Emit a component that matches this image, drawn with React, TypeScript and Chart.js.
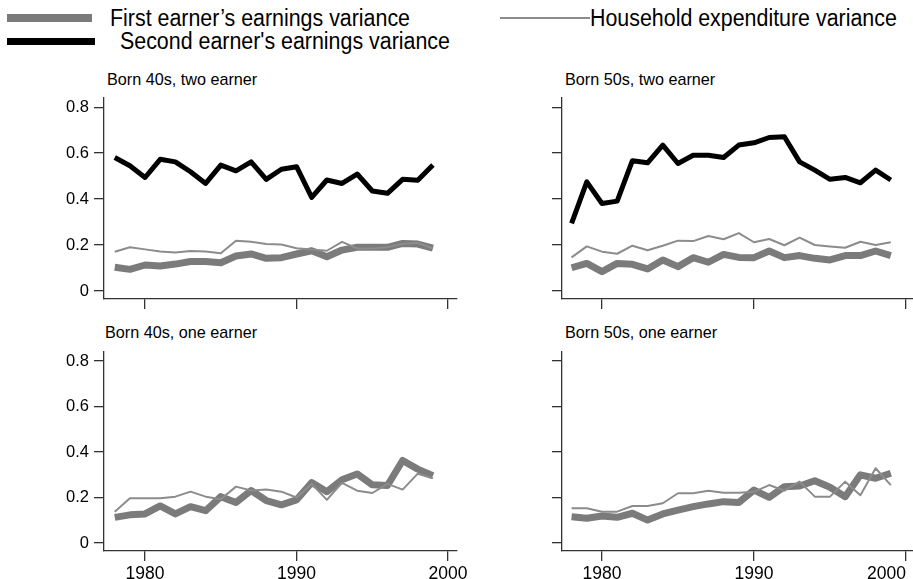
import React, { useEffect, useRef } from "react";
import { Chart, registerables } from "chart.js";

Chart.register(...registerables);

const years = [1978, 1979, 1980, 1981, 1982, 1983, 1984, 1985, 1986, 1987, 1988, 1989, 1990, 1991, 1992, 1993, 1994, 1995, 1996, 1997, 1998, 1999];

const first40Two = [0.103, 0.094, 0.113, 0.109, 0.117, 0.128, 0.128, 0.123, 0.152, 0.161, 0.142, 0.145, 0.161, 0.175, 0.149, 0.178, 0.19, 0.19, 0.19, 0.207, 0.204, 0.186];
const second40Two = [0.581, 0.545, 0.494, 0.573, 0.562, 0.519, 0.468, 0.548, 0.523, 0.562, 0.486, 0.53, 0.541, 0.407, 0.483, 0.468, 0.509, 0.435, 0.425, 0.486, 0.482, 0.548];
const house40Two = [0.171, 0.19, 0.181, 0.172, 0.167, 0.174, 0.172, 0.164, 0.219, 0.214, 0.204, 0.202, 0.186, 0.181, 0.175, 0.214, 0.185, 0.185, 0.19, 0.205, 0.21, 0.185];

const first50Two = [0.101, 0.12, 0.084, 0.12, 0.116, 0.096, 0.135, 0.106, 0.145, 0.125, 0.159, 0.146, 0.145, 0.174, 0.145, 0.154, 0.142, 0.135, 0.154, 0.154, 0.174, 0.154];
const second50Two = [0.294, 0.475, 0.381, 0.391, 0.567, 0.558, 0.635, 0.555, 0.591, 0.591, 0.581, 0.635, 0.645, 0.668, 0.671, 0.562, 0.526, 0.486, 0.494, 0.471, 0.526, 0.483];
const house50Two = [0.146, 0.194, 0.171, 0.162, 0.197, 0.177, 0.197, 0.219, 0.217, 0.239, 0.225, 0.252, 0.212, 0.226, 0.199, 0.232, 0.2, 0.194, 0.188, 0.214, 0.2, 0.212];

const first40One = [0.113, 0.124, 0.128, 0.163, 0.128, 0.16, 0.142, 0.204, 0.178, 0.231, 0.187, 0.168, 0.19, 0.266, 0.226, 0.278, 0.304, 0.256, 0.253, 0.363, 0.325, 0.296];
const house40One = [0.138, 0.197, 0.197, 0.197, 0.204, 0.226, 0.204, 0.193, 0.248, 0.231, 0.235, 0.226, 0.2, 0.26, 0.19, 0.265, 0.23, 0.22, 0.26, 0.235, 0.305, 0.285];

const first50One = [0.116, 0.109, 0.119, 0.113, 0.131, 0.101, 0.128, 0.145, 0.16, 0.172, 0.182, 0.178, 0.233, 0.201, 0.248, 0.251, 0.274, 0.245, 0.204, 0.3, 0.285, 0.307];
const house50One = [0.153, 0.153, 0.138, 0.138, 0.163, 0.163, 0.175, 0.219, 0.219, 0.23, 0.221, 0.221, 0.225, 0.255, 0.23, 0.27, 0.204, 0.204, 0.27, 0.21, 0.329, 0.255];

const yTicks = [0, 0.2, 0.4, 0.6, 0.8];
const xTicks = [1980, 1990, 2000];

const panelTitles = ["Born 40s, two earner", "Born 50s, two earner", "Born 40s, one earner", "Born 50s, one earner"];
const legendLabels = ["First earner\u2019s earnings variance", "Second earner's earnings variance", "Household expenditure variance"];

const FONT = "'Liberation Sans', Arial, Helvetica, sans-serif";
const THICK = "#7b7b7b";
const THIN = "#8c8c8c";
const AXIS = "#333333";

type Series = { data: number[]; color: string; width: number; order: number };

type PanelCfg = {
  left: number;
  top: number;
  width: number;
  height: number;
  padTop: number;
  padRight: number;
  yW: number;
  xH: number;
  xmin: number;
  xmax: number;
  showX: boolean;
  showY: boolean;
  innerAlign: boolean;
  series: Series[];
};

function Panel({ cfg }: { cfg: PanelCfg }) {
  const ref = useRef<HTMLCanvasElement | null>(null);
  useEffect(() => {
    if (!ref.current) return;
    const tickVals = cfg.innerAlign ? [cfg.xmin, ...xTicks] : xTicks;
    const chart = new Chart(ref.current, {
      type: "line",
      data: {
        datasets: cfg.series.map((s) => ({
          data: years.map((yr, i) => ({ x: yr, y: s.data[i] })),
          borderColor: s.color,
          backgroundColor: s.color,
          borderWidth: s.width,
          pointRadius: 0,
          tension: 0,
          fill: false,
          borderJoinStyle: "round" as const,
          borderCapStyle: "butt" as const,
          order: s.order,
        })),
      },
      options: {
        animation: false,
        responsive: false,
        devicePixelRatio: 1,
        layout: { padding: { top: cfg.padTop, right: cfg.padRight, left: 0, bottom: 0 } },
        plugins: { legend: { display: false }, tooltip: { enabled: false }, title: { display: false } },
        events: [],
        scales: {
          x: {
            type: "linear",
            min: cfg.xmin,
            max: cfg.xmax,
            afterBuildTicks: (s: any) => {
              s.ticks = tickVals.map((v) => ({ value: v }));
            },
            afterFit: (s: any) => {
              s.height = cfg.xH;
              s.paddingLeft = 0;
              s.paddingRight = 0;
            },
            grid: {
              display: true,
              drawOnChartArea: false,
              drawTicks: true,
              tickLength: 10,
              color: AXIS,
              tickColor: (ctx: any) => (ctx.tick && ctx.tick.value < 1979 ? "rgba(0,0,0,0)" : AXIS),
              lineWidth: 1.3,
            },
            border: { display: true, color: AXIS, width: 1.3 },
            ticks: {
              display: cfg.showX,
              color: "#000",
              font: { family: FONT, size: 17.5 },
              padding: 3,
              maxRotation: 0,
              autoSkip: false,
              align: cfg.innerAlign ? ("inner" as const) : ("center" as const),
              callback: (v: any) => (v < 1979 ? "" : String(v)),
            },
          },
          y: {
            type: "linear",
            min: -0.035,
            max: 0.84,
            afterBuildTicks: (s: any) => {
              s.ticks = yTicks.map((v) => ({ value: v }));
            },
            afterFit: (s: any) => {
              s.width = cfg.yW;
              s.paddingTop = 0;
              s.paddingBottom = 0;
            },
            grid: { display: true, drawOnChartArea: false, drawTicks: true, tickLength: 10, color: AXIS, lineWidth: 1.3 },
            border: { display: true, color: AXIS, width: 1.3 },
            ticks: {
              display: cfg.showY,
              color: "#000",
              font: { family: FONT, size: 16.5 },
              padding: 5,
              autoSkip: false,
              callback: (v: any) => String(v),
            },
          },
        },
      },
    });
    return () => chart.destroy();
  }, [cfg]);
  return (
    <canvas
      ref={ref}
      width={cfg.width}
      height={cfg.height}
      style={{ position: "absolute", left: cfg.left, top: cfg.top, width: cfg.width, height: cfg.height }}
    />
  );
}

const seriesSet = (first: number[], house: number[], second?: number[]): Series[] => {
  const s: Series[] = [
    { data: first, color: THICK, width: 7, order: 2 },
    { data: house, color: THIN, width: 2, order: 1 },
  ];
  if (second) s.push({ data: second, color: "#000", width: 5, order: 0 });
  return s;
};

const panels: PanelCfg[] = [
  { left: 40, top: 90, width: 440, height: 230, padTop: 8, padRight: 23, yW: 64, xH: 21, xmin: 1977.29, xmax: 2000.59, showX: false, showY: true, innerAlign: false, series: seriesSet(first40Two, house40Two, second40Two) },
  { left: 522, top: 90, width: 391, height: 230, padTop: 8, padRight: 0, yW: 40, xH: 21, xmin: 1977.37, xmax: 2000.46, showX: false, showY: false, innerAlign: false, series: seriesSet(first50Two, house50Two, second50Two) },
  { left: 40, top: 345, width: 440, height: 234, padTop: 7, padRight: 23, yW: 64, xH: 28, xmin: 1977.29, xmax: 2000.59, showX: true, showY: true, innerAlign: false, series: seriesSet(first40One, house40One) },
  { left: 522, top: 345, width: 391, height: 234, padTop: 7, padRight: 0, yW: 40, xH: 28, xmin: 1977.37, xmax: 2000.46, showX: true, showY: false, innerAlign: true, series: seriesSet(first50One, house50One) },
];

const titlePos = [
  { left: 107, top: 79 },
  { left: 565, top: 79 },
  { left: 105, top: 332 },
  { left: 565, top: 332 },
];

const textStyle = (left: number, centerY: number, size: number, sy = 1): React.CSSProperties => ({
  position: "absolute",
  left,
  top: centerY - size * 0.58,
  fontSize: size,
  lineHeight: `${size * 1.15}px`,
  fontFamily: FONT,
  color: "#000",
  whiteSpace: "nowrap",
  transform: sy !== 1 ? `scaleY(${sy})` : undefined,
  transformOrigin: "left center",
});

export default function App() {
  return (
    <div
      style={{
        position: "absolute",
        left: 0,
        top: 0,
        width: 913,
        height: 579,
        overflow: "hidden",
        background: "#fff",
        fontFamily: FONT,
      }}
    >
      <div style={{ position: "absolute", left: 7, top: 14, width: 85, height: 8, background: THICK }} />
      <div style={textStyle(110, 18, 21.4, 1.1)}>{legendLabels[0]}</div>
      <div style={{ position: "absolute", left: 7, top: 38, width: 88, height: 7, background: "#000" }} />
      <div style={textStyle(120, 41, 21.4, 1.1)}>{legendLabels[1]}</div>
      <div style={{ position: "absolute", left: 500, top: 17, width: 90, height: 2, background: THIN }} />
      <div style={textStyle(590, 18, 21.4, 1.1)}>{legendLabels[2]}</div>

      {panelTitles.map((t, i) => (
        <div key={t} style={textStyle(titlePos[i].left, titlePos[i].top, 16.2)}>
          {t}
        </div>
      ))}
      {panels.map((p, i) => (
        <Panel key={i} cfg={p} />
      ))}
    </div>
  );
}
